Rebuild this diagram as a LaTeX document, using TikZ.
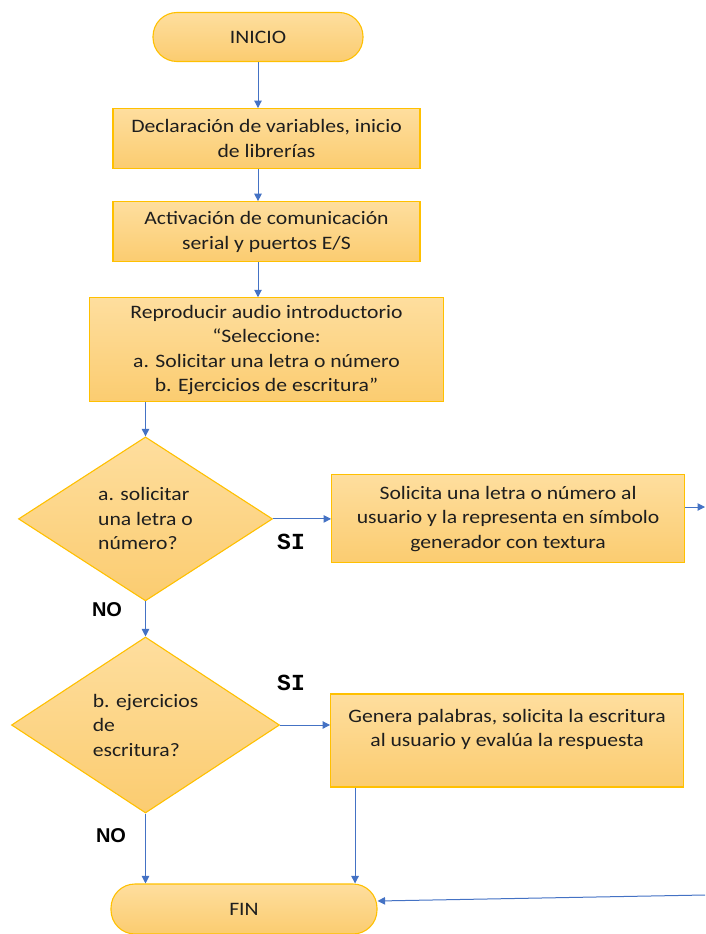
\documentclass[tikz,border=0pt]{standalone}
\usepackage{fontspec}
\setmainfont{Carlito}[FakeStretch=1.14]
\newfontfamily\monobold{Liberation Mono}
\newfontfamily\sansbold{Liberation Sans}
\definecolor{goldline}{RGB}{255,192,0}
\definecolor{ambertop}{RGB}{254,222,158}
\definecolor{amberbot}{RGB}{251,204,112}
\definecolor{flowblue}{RGB}{68,114,196}
\definecolor{inkgray}{RGB}{30,30,30}
\usetikzlibrary{positioning, arrows.meta, shapes.geometric}

\begin{document}
\begin{tikzpicture}[
    x=1pt, y=-1pt,
    proc/.style={draw=goldline, line width=1.1pt, top color=ambertop, bottom color=amberbot,
      text=inkgray, font=\fontsize{19}{24.5}\selectfont, align=center, inner sep=2pt},
    term/.style={proc, rounded corners=24pt, minimum height=49pt},
    choice/.style={proc, diamond, align=left, inner sep=0pt},
    flow/.style={draw=flowblue, line width=1pt, -{Triangle[width=7.5pt,length=7.5pt]}},
    yes/.style={font=\monobold\bfseries\fontsize{23}{23}\selectfont, text=black},
    no/.style={font=\sansbold\bfseries\fontsize{20}{20}\selectfont, text=black},
    node distance=32pt,
  ]
    \useasboundingbox (0,0) rectangle (705,934);

    \node[term, minimum width=210pt] (inicio) at (258,37) {INICIO};
    \node[proc, minimum width=307pt, minimum height=60pt, below=46pt of inicio, xshift=8.5pt] (b1)
      {Declaración de variables, inicio\\de librerías};
    \node[proc, minimum width=307pt, minimum height=60pt, below=of b1] (b2)
      {Activación de comunicación\\serial y puertos E/S};
    \node[proc, minimum width=354pt, minimum height=104pt, below=35pt of b2] (b3)
      {Reproducir audio introductorio\\“Seleccione:\\a. Solicitar una letra o número\\b. Ejercicios de escritura”};

    \node[choice, minimum width=254pt, minimum height=164pt, below=34pt of b3, xshift=-121pt] (d1)
      {a. solicitar\\una letra o\\número?};
    \node[choice, minimum width=268pt, minimum height=176pt, below=35pt of d1] (d2)
      {b. ejercicios\\de\\escritura?};

    \node[proc, minimum width=353pt, minimum height=88pt, right=58pt of d1] (b4)
      {Solicita una letra o número al\\usuario y la representa en símbolo\\generador con textura};
    \node[proc, minimum width=353pt, minimum height=93pt, text depth=25pt, right=50pt of d2, yshift=-15.5pt] (b5)
      {Genera palabras, solicita la escritura\\al usuario y evalúa la respuesta};

    \node[term, minimum width=266pt, minimum height=50pt] (fin) at (244,909) {FIN};

    % etiquetas SI / NO
    \node[yes] (si1) at (291,542) {SI};
    \node[yes] (si2) at (291,683) {SI};
    \node[no] (no1) at (107,610) {NO};
    \node[no] (no2) at (111,836) {NO};

    % extremos fuera del dibujo
    \coordinate (out1) at (705,507);
    \coordinate (in1) at (705,895);

    \draw[flow] (inicio.south) -- (inicio.south |- b1.north);
    \draw[flow] (inicio.south |- b1.south) -- (inicio.south |- b2.north);
    \draw[flow] (inicio.south |- b2.south) -- (inicio.south |- b3.north);
    \draw[flow] (d1.north |- b3.south) -- (d1.north);
    \draw[flow] (d1.east) -- (b4.west |- d1.east);
    \draw[flow] (d1.south) -- (d2.north);
    \draw[flow] (d2.east) -- (b5.west |- d2.east);
    \draw[flow] (b4.east |- out1) -- (out1);
    \draw[flow] ([xshift=25pt]b5.south west) -- ([xshift=25pt]b5.south west |- fin.north);
    \draw[flow] (d2.south) -- (d2.south |- fin.north);
    \draw[flow] (in1) -- ([yshift=8pt]fin.east);
  \end{tikzpicture}
\end{document}
